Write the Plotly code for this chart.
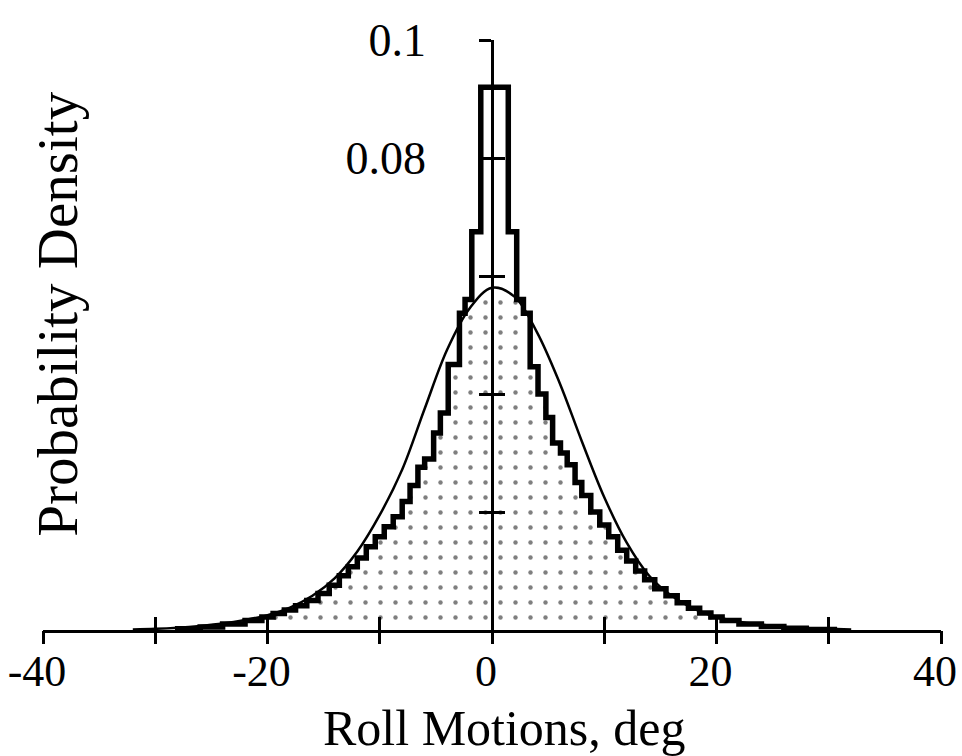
import numpy as np
import plotly.graph_objects as go

# ---------------- data ----------------
# Histogram of roll motions (bin edges in deg, densities per bin)
hist_edges = [-28, -26, -24, -22, -20.5, -19.5, -18.5, -17.5, -16.5, -15.5, -14.5,
              -13.6, -12.8, -12.0, -11.2, -10.4, -9.6, -8.8, -8.0, -7.3, -6.6,
              -6.0, -5.2, -4.6, -3.9, -2.9, -2.4, -1.8, -1.0, 1.45, 2.2, 2.8,
              3.4, 4.1, 4.8, 5.4, 6.1, 6.7, 7.4, 8.0, 8.8, 9.6, 10.4, 11.2,
              12.0, 12.8, 13.6, 14.5, 15.5, 16.5, 17.5, 18.5, 19.5, 20.5, 22,
              24, 26, 28, 30.5]
hist_density = [0.0002, 0.0005, 0.0010, 0.0016, 0.0022, 0.0028, 0.0034, 0.0041,
                0.0050, 0.0062, 0.0076, 0.0092, 0.0107, 0.0122, 0.0141, 0.0158,
                0.0175, 0.0192, 0.0218, 0.0245, 0.0276, 0.0290, 0.0334, 0.0368,
                0.0450, 0.0537, 0.0560, 0.0675, 0.0920, 0.0675, 0.0560, 0.0537,
                0.0446, 0.0400, 0.0360, 0.0317, 0.0300, 0.0280, 0.0250, 0.0228,
                0.0200, 0.0178, 0.0158, 0.0135, 0.0117, 0.0100, 0.0085, 0.0070,
                0.0058, 0.0046, 0.0037, 0.0029, 0.0022, 0.0016, 0.0010, 0.0006,
                0.0003, 0.0001]

# Fitted smooth density curve
curve_x = [-32, -30, -28, -26, -24, -22, -20, -18, -16, -14, -12, -10, -8, -6,
           -4, -2, 0, 2, 4, 6, 8, 10, 12, 14, 16, 18, 20, 22, 24, 26, 28, 30, 32]
curve_y = [0.0001, 0.0002, 0.0004, 0.0007, 0.0011, 0.0017, 0.0025, 0.0038,
           0.0058, 0.0088, 0.0133, 0.0195, 0.0272, 0.0375, 0.0475, 0.0545,
           0.0580, 0.0565, 0.0505, 0.0420, 0.0320, 0.0225, 0.0148, 0.0092,
           0.0058, 0.0036, 0.0022, 0.0014, 0.0009, 0.0005, 0.0003, 0.0002,
           0.0001]

x_tickvals = [-40, -30, -20, -10, 0, 10, 20, 30, 40]
x_ticktext = ["-40", "", "-20", "", "0", "", "20", "", "40"]
y_tickvals = [0.02, 0.04, 0.06, 0.08, 0.1]
y_ticktext = ["", "", "", "0.08", "0.1"]

# ---------------- derived traces ----------------
edges = np.array(hist_edges, dtype=float)
dens = np.array(hist_density, dtype=float)
step_x = [edges[0]] + list(edges[:-1]) + [edges[-1], edges[-1]]
step_y = [0.0] + list(dens) + [dens[-1], 0.0]

# shaded region: under both histogram and curve
xf = np.linspace(edges[0], edges[-1], 2400)
idx = np.clip(np.searchsorted(edges, xf, side="right") - 1, 0, len(dens) - 1)
hf = dens[idx]
cf = np.interp(xf, curve_x, curve_y)
fill_y = np.minimum(hf, cf)

FONT = "Liberation Serif, Times New Roman, serif"

fig = go.Figure()
fig.add_trace(go.Scatter(
    x=xf, y=fill_y, mode="lines", line=dict(width=0, color="rgba(0,0,0,0)"),
    fill="tozeroy", fillcolor="white",
    fillpattern=dict(shape=".", fgcolor="black", bgcolor="white", size=15, solidity=0.07),
    hoverinfo="skip", showlegend=False))
fig.add_trace(go.Scatter(
    x=curve_x, y=curve_y, mode="lines", line=dict(color="black", width=2.5, shape="spline", smoothing=1.0),
    showlegend=False))
fig.add_trace(go.Scatter(
    x=step_x, y=step_y, mode="lines", line=dict(color="black", width=5.5, shape="hv"),
    showlegend=False))
# invisible helper trace for overlay axes (crossing ticks)
fig.add_trace(go.Scatter(x=[0], y=[0], xaxis="x2", yaxis="y2", mode="markers",
                         marker=dict(opacity=0), hoverinfo="skip", showlegend=False))

fig.update_layout(
    width=962, height=756,
    margin=dict(l=43, r=21, t=40, b=126, autoexpand=False),
    paper_bgcolor="white", plot_bgcolor="white",
    font=dict(family=FONT, size=44, color="black"),
    xaxis=dict(range=[-40, 40], tickvals=x_tickvals, ticktext=x_ticktext,
               showline=True, linecolor="black", linewidth=2.5,
               ticks="inside", ticklen=13, tickwidth=2.5, tickcolor="black",
               ticklabelstandoff=0, ticklabelshift=-6, ticklabeloverflow="allow",
               showgrid=False, zeroline=False, anchor="y", automargin=False,
               tickfont=dict(size=44, family=FONT)),
    xaxis2=dict(range=[-40, 40], overlaying="x", anchor="y", side="bottom",
                tickvals=x_tickvals, showticklabels=False, showline=False,
                ticks="outside", ticklen=13, tickwidth=2.5, tickcolor="black",
                showgrid=False, zeroline=False, automargin=False),
    yaxis=dict(range=[0, 0.1], tickvals=y_tickvals, ticktext=y_ticktext,
               anchor="free", position=0.5, side="left",
               showline=True, linecolor="black", linewidth=2.5,
               ticks="outside", ticklen=12, tickwidth=2.5, tickcolor="black",
               ticklabelstandoff=44, automargin=False, ticklabeloverflow="allow",
               showgrid=False, zeroline=False,
               tickfont=dict(size=46, family=FONT)),
    yaxis2=dict(range=[0, 0.1], overlaying="y", anchor="free", position=0.5,
                tickvals=y_tickvals, showticklabels=False, showline=False,
                ticks="inside", ticklen=12, tickwidth=2.5, tickcolor="black",
                showgrid=False, zeroline=False, automargin=False),
    annotations=[
        dict(text="Roll Motions, deg", xref="paper", yref="paper",
             x=0.514, y=-0.166, xanchor="center", yanchor="middle",
             showarrow=False, font=dict(size=50, family=FONT)),
        dict(text="Probability Density", xref="paper", yref="paper",
             x=0.016, y=0.535, xanchor="center", yanchor="middle", textangle=-90,
             showarrow=False, font=dict(size=57, family=FONT)),
    ],
)

fig.write_html("out.html", config={"displayModeBar": False},
               post_script="document.body.style.margin='0';document.body.style.overflow='hidden';")
